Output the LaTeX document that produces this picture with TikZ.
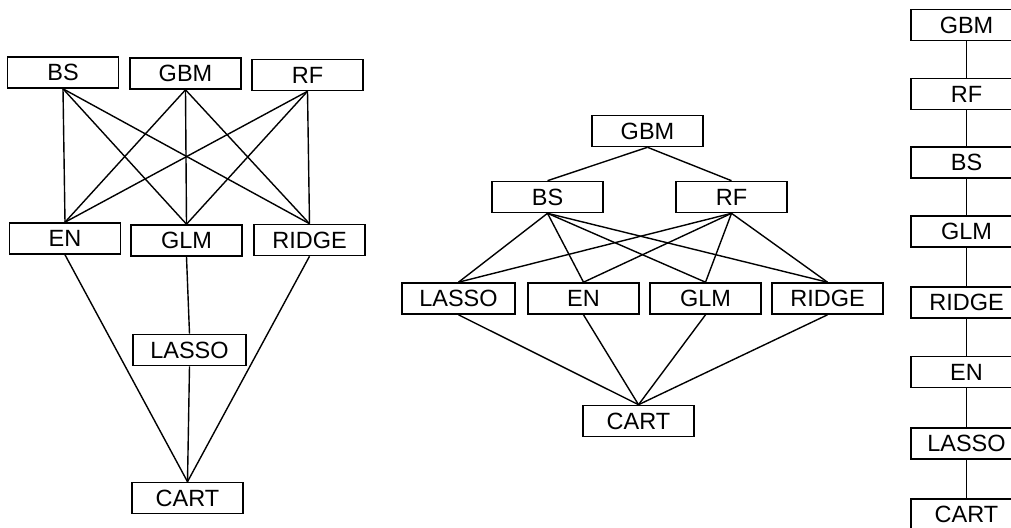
\documentclass[tikz,border=0pt]{standalone}
\usepackage{fontspec}
\setmainfont{Liberation Sans}
\begin{document}
\begin{tikzpicture}[x=1pt,y=-1pt,
  box/.style={draw, line width=1.6pt, minimum width=111pt, minimum height=31pt, inner sep=0pt,
    font=\fontsize{23.5}{25}\selectfont},
  edge/.style={line width=1.4pt}]
\useasboundingbox[fill=white] (0,0) rectangle (1011,527);
\begin{scope}
\clip (0,0) rectangle (1011,527);
% left diagram
\node[box] (lBS) at (63,72.5) {BS};
\node[box] (lGBM) at (185.5,73.5) {GBM};
\node[box] (lRF) at (307.5,75) {RF};
\node[box] (lEN) at (65,238.5) {EN};
\node[box] (lGLM) at (186.5,240.5) {GLM};
\node[box] (lRIDGE) at (309.5,240) {RIDGE};
\node[box, minimum width=113pt] (lLASSO) at (189.5,350) {LASSO};
\node[box] (lCART) at (187.5,498) {CART};
\foreach \a in {lBS,lGBM,lRF}
  \foreach \b in {lEN,lGLM,lRIDGE}
    \draw[edge] (\a.south) -- (\b.north);
\draw[edge] (lEN.south) -- (lCART.north);
\draw[edge] (lGLM.south) -- (lLASSO.north);
\draw[edge] (lLASSO.south) -- (lCART.north);
\draw[edge] (lRIDGE.south) -- (lCART.north);
% middle diagram
\node[box] (mGBM) at (647.5,131) {GBM};
\node[box] (mBS) at (547.5,197) {BS};
\node[box] (mRF) at (731.5,197) {RF};
\node[box, minimum width=113pt] (mLASSO) at (458.5,298.5) {LASSO};
\node[box] (mEN) at (583.5,298.5) {EN};
\node[box] (mGLM) at (705.5,298.5) {GLM};
\node[box] (mRIDGE) at (827.5,298.5) {RIDGE};
\node[box] (mCART) at (638.5,421) {CART};
\draw[edge] (mGBM.south) -- (mBS.north);
\draw[edge] (mGBM.south) -- (mRF.north);
\foreach \a in {mBS,mRF}
  \foreach \b in {mLASSO,mEN,mGLM,mRIDGE}
    \draw[edge] (\a.south) -- (\b.north);
\foreach \b in {mLASSO,mEN,mGLM,mRIDGE}
  \draw[edge] (\b.south) -- (mCART.north);
% right column
\node[box] (rGBM) at (966.5,25) {GBM};
\node[box] (rRF) at (966.5,94) {RF};
\node[box] (rBS) at (966.5,162.5) {BS};
\node[box] (rGLM) at (966.5,231.5) {GLM};
\node[box] (rRIDGE) at (966.5,302.5) {RIDGE};
\node[box] (rEN) at (966.5,372) {EN};
\node[box] (rLASSO) at (966.5,443.5) {LASSO};
\node[box] (rCART) at (966.5,514.5) {CART};
\draw[edge] (rGBM.south) -- (rRF.north);
\draw[edge] (rRF.south) -- (rBS.north);
\draw[edge] (rBS.south) -- (rGLM.north);
\draw[edge] (rGLM.south) -- (rRIDGE.north);
\draw[edge] (rRIDGE.south) -- (rEN.north);
\draw[edge] (rEN.south) -- (rLASSO.north);
\draw[edge] (rLASSO.south) -- (rCART.north);
\end{scope}
\end{tikzpicture}
\end{document}
